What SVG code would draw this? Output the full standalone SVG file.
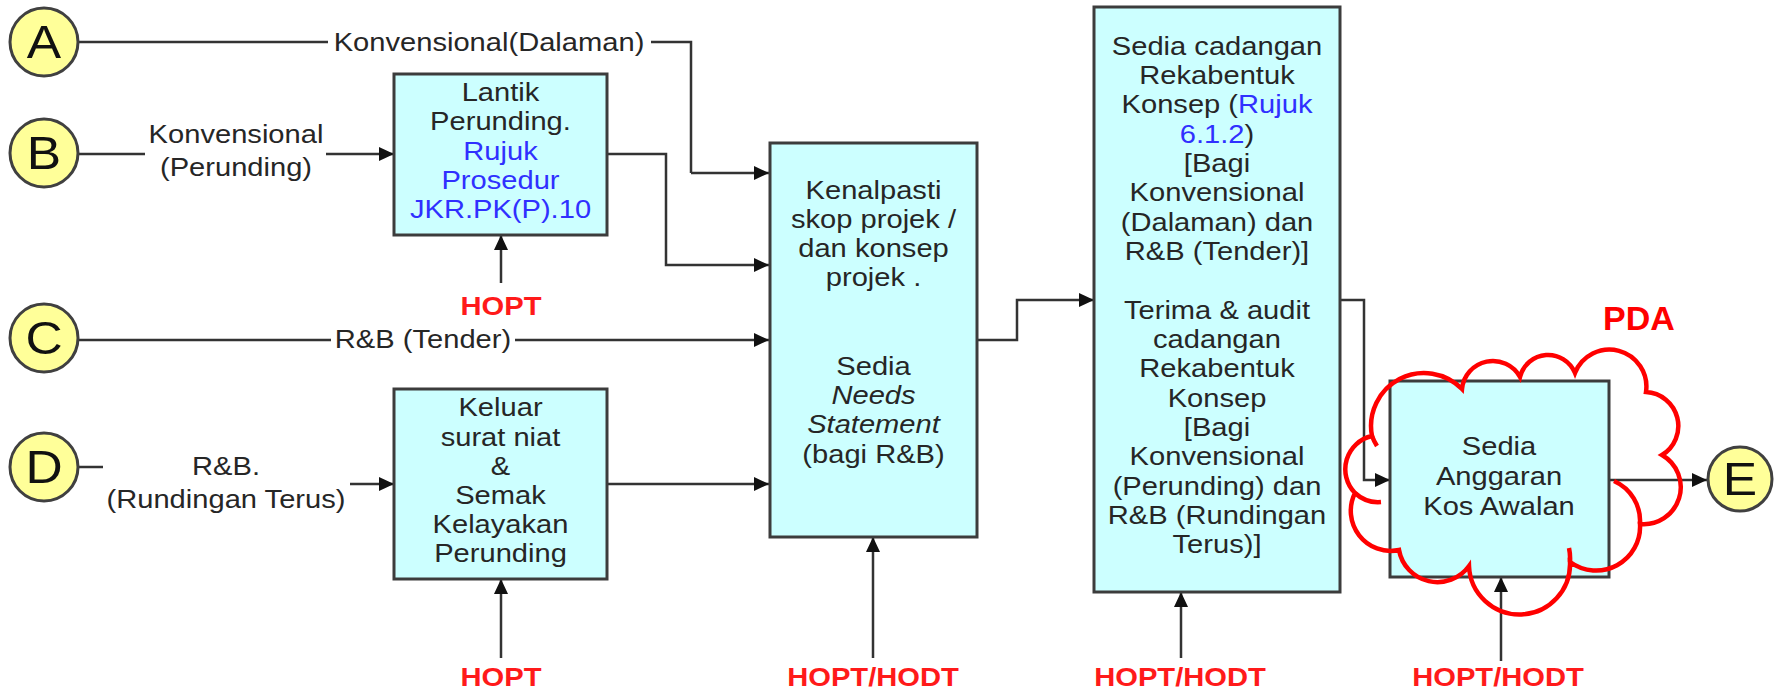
<svg xmlns="http://www.w3.org/2000/svg" width="1775" height="693" viewBox="0 0 1775 693">
<defs>
<marker id="ah" markerUnits="userSpaceOnUse" markerWidth="15" markerHeight="14" refX="15" refY="7" orient="auto" viewBox="0 0 15 14"><path d="M0,0 L15,7 L0,14 z" fill="#111"/></marker>
<style>
.box{fill:#ccffff;stroke:#3c3c3c;stroke-width:3}
.circ{fill:#ffff99;stroke:#404040;stroke-width:3}
.t{font-family:"Liberation Sans",Arial,sans-serif;font-size:26px;fill:#262626;text-anchor:middle}
.bl{fill:#3030ff}
.r{font-family:"Liberation Sans",Arial,sans-serif;font-size:26.5px;font-weight:bold;fill:#ff1a1a;text-anchor:middle}
.L{font-family:"Liberation Sans",Arial,sans-serif;font-size:46px;fill:#111;text-anchor:middle}
.c{fill:none;stroke:#333;stroke-width:2.5}
.a{marker-end:url(#ah)}
.cloud{fill:none;stroke:#ff0000;stroke-width:4.5}
.pda{font-family:"Liberation Sans",Arial,sans-serif;font-size:34px;font-weight:bold;fill:#ff0000;text-anchor:middle}
</style>
</defs>
<rect width="1775" height="693" fill="#ffffff"/>

<g id="connectors">
<path class="c" d="M78,42 H328 M651,42 H691 V173"/>
<path class="c a" d="M691,173 H769"/>
<path class="c" d="M78,154 H145"/>
<path class="c a" d="M326,154 H394"/>
<path class="c a" d="M607,154 H666 V265 H769"/>
<path class="c" d="M78,340 H331"/>
<path class="c a" d="M515,340 H769"/>
<path class="c" d="M78,467 H103"/>
<path class="c a" d="M350,484 H394"/>
<path class="c a" d="M607,484 H769"/>
<path class="c a" d="M977,340 H1017 V300 H1094"/>
<path class="c a" d="M1340,300 H1364 V480 H1390"/>
<path class="c a" d="M1609,480 H1707"/>
<path class="c a" d="M501,283 V235"/>
<path class="c a" d="M501,658 V579"/>
<path class="c a" d="M873,658 V537"/>
<path class="c a" d="M1181,658 V592"/>
<path class="c a" d="M1501,661 V577"/>
<text class="t" transform="translate(489 0) scale(1.12 1)"><tspan x="0" y="51">Konvensional(Dalaman)</tspan></text>
<text class="t" transform="translate(236 0) scale(1.12 1)"><tspan x="0" y="143">Konvensional</tspan><tspan x="0" y="176">(Perunding)</tspan></text>
<text class="t" transform="translate(423 0) scale(1.12 1)"><tspan x="0" y="348">R&amp;B (Tender)</tspan></text>
<text class="t" transform="translate(226 0) scale(1.12 1)"><tspan x="0" y="475">R&amp;B.</tspan><tspan x="0" y="508">(Rundingan Terus)</tspan></text>
</g>

<g id="nodeA"><circle class="circ" cx="44" cy="42" r="34"/><text class="L" transform="translate(44 0) scale(1.12 1)" x="0" y="58">A</text></g>
<g id="nodeB"><circle class="circ" cx="44" cy="153" r="34"/><text class="L" transform="translate(44 0) scale(1.12 1)" x="0" y="169">B</text></g>
<g id="nodeC"><circle class="circ" cx="44" cy="338" r="34"/><text class="L" transform="translate(44 0) scale(1.12 1)" x="0" y="354">C</text></g>
<g id="nodeD"><circle class="circ" cx="44" cy="467" r="34"/><text class="L" transform="translate(44 0) scale(1.12 1)" x="0" y="483">D</text></g>
<g id="nodeE"><circle class="circ" cx="1740" cy="479" r="32"/><text class="L" transform="translate(1740 0) scale(1.12 1)" x="0" y="495">E</text></g>

<g id="box1">
<rect class="box" x="394" y="74" width="213" height="161"/>
<text class="t" transform="translate(500.5 0) scale(1.12 1)"><tspan x="0" y="101">Lantik</tspan><tspan x="0" y="130">Perunding.</tspan><tspan x="0" y="160" class="bl">Rujuk</tspan><tspan x="0" y="189" class="bl">Prosedur</tspan><tspan x="0" y="218" class="bl">JKR.PK(P).10</tspan></text>
<text class="r" transform="translate(501 0) scale(1.1 1)" x="0" y="315">HOPT</text>
</g>

<g id="box3">
<rect class="box" x="394" y="389" width="213" height="190"/>
<text class="t" transform="translate(500.5 0) scale(1.12 1)"><tspan x="0" y="416">Keluar</tspan><tspan x="0" y="446">surat niat</tspan><tspan x="0" y="475">&amp;</tspan><tspan x="0" y="504">Semak</tspan><tspan x="0" y="533">Kelayakan</tspan><tspan x="0" y="562">Perunding</tspan></text>
<text class="r" transform="translate(501 0) scale(1.1 1)" x="0" y="686">HOPT</text>
</g>

<g id="box2">
<rect class="box" x="770" y="143" width="207" height="394"/>
<text class="t" transform="translate(873.5 0) scale(1.12 1)"><tspan x="0" y="199">Kenalpasti</tspan><tspan x="0" y="228">skop projek /</tspan><tspan x="0" y="257">dan konsep</tspan><tspan x="0" y="286">projek .</tspan><tspan x="0" y="375">Sedia</tspan><tspan x="0" y="404" font-style="italic">Needs</tspan><tspan x="0" y="433" font-style="italic">Statement</tspan><tspan x="0" y="463">(bagi R&amp;B)</tspan></text>
<text class="r" transform="translate(873 0) scale(1.1 1)" x="0" y="686">HOPT/HODT</text>
</g>

<g id="box4">
<rect class="box" x="1094" y="7" width="246" height="585"/>
<text class="t" transform="translate(1217 0) scale(1.12 1)"><tspan x="0" y="55">Sedia cadangan</tspan><tspan x="0" y="84">Rekabentuk</tspan><tspan x="0" y="113.5">Konsep (<tspan class="bl">Rujuk</tspan></tspan><tspan x="0" y="143"><tspan class="bl">6.1.2</tspan>)</tspan><tspan x="0" y="172">[Bagi</tspan><tspan x="0" y="201.5">Konvensional</tspan><tspan x="0" y="231">(Dalaman) dan</tspan><tspan x="0" y="260">R&amp;B (Tender)]</tspan><tspan x="0" y="319">Terima &amp; audit</tspan><tspan x="0" y="348">cadangan</tspan><tspan x="0" y="377.5">Rekabentuk</tspan><tspan x="0" y="407">Konsep</tspan><tspan x="0" y="436">[Bagi</tspan><tspan x="0" y="465.5">Konvensional</tspan><tspan x="0" y="495">(Perunding) dan</tspan><tspan x="0" y="524">R&amp;B (Rundingan</tspan><tspan x="0" y="553">Terus)]</tspan></text>
<text class="r" transform="translate(1180 0) scale(1.1 1)" x="0" y="686">HOPT/HODT</text>
</g>

<g id="box5">
<rect class="box" x="1390" y="381" width="219" height="196"/>
<text class="t" transform="translate(1499 0) scale(1.12 1)"><tspan x="0" y="455">Sedia</tspan><tspan x="0" y="485">Anggaran</tspan><tspan x="0" y="515">Kos Awalan</tspan></text>
<text class="r" transform="translate(1498 0) scale(1.1 1)" x="0" y="686">HOPT/HODT</text>
</g>

<g id="pda">
<path class="cloud" d="M1372,436 A53,53 0 0 1 1462,389 A31,31 0 0 1 1520,377 A29,29 0 0 1 1575,373 A37,37 0 0 1 1646,392 A34,34 0 0 1 1662,455 A37,37 0 0 1 1640,524 A44,44 0 0 1 1570,562 A50,50 0 0 1 1469,566 A39,39 0 0 1 1399,550 A40,40 0 0 1 1355,493 A34,34 0 0 1 1372,436 Z"/>
<path class="cloud" d="M1640,524 A44,44 0 0 0 1614,481 M1570,562 A50,50 0 0 0 1569,548 M1355,493 A34,34 0 0 0 1381,502 M1372,436 A53,53 0 0 0 1377,446"/>
<text class="pda" x="1639" y="330">PDA</text>
</g>
</svg>
